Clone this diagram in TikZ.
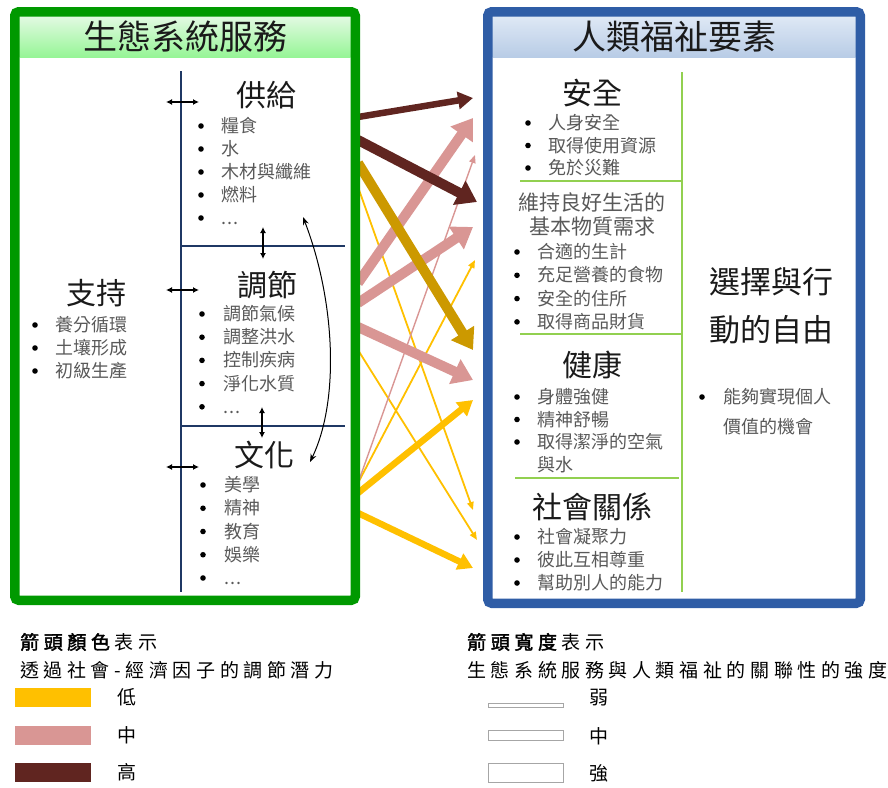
\documentclass[tikz,border=0pt]{standalone}
\usepackage{fontspec}
\newfontfamily\cjk{Noto Sans CJK TC}
\newfontfamily\cjkb[FakeBold=2]{Noto Sans CJK TC}
\usetikzlibrary{arrows.meta}
\definecolor{gbox}{HTML}{009900}
\definecolor{bbox}{HTML}{2F5DA6}
\definecolor{navy}{HTML}{1F3864}
\definecolor{lgreen}{HTML}{92D050}
\definecolor{brownc}{HTML}{602520}
\definecolor{pinkc}{HTML}{D99694}
\definecolor{goldc}{HTML}{CC9900}
\definecolor{yellowc}{HTML}{FFC000}
\definecolor{headc}{HTML}{1A1A1A}
\definecolor{itemc}{HTML}{595959}
\newcommand\tdots{.\kern1pt.\kern1pt.}
\makeatletter
\newcommand\spaced[1]{\@tfor\chr:=#1\do{\chr\kern4.6pt}}
\makeatother
\tikzset{
  ttl/.style={font=\cjk\fontsize{34}{40}\selectfont, text=headc, inner sep=0},
  hd/.style={font=\cjk\fontsize{30}{36}\selectfont, text=headc, inner sep=0},
  hdb/.style={font=\cjk\fontsize{31}{36}\selectfont, text=headc, inner sep=0},
  sub/.style={font=\cjk\fontsize{21}{25}\selectfont, text=itemc, inner sep=0},
  itm/.style={font=\cjk\fontsize{18}{22}\selectfont, text=itemc, inner sep=0, anchor=west, text height=15.5pt, text depth=2.5pt},
  legt/.style={font=\cjk\fontsize{19}{23}\selectfont, text=black, inner sep=0, anchor=west},
  legl/.style={font=\cjk\fontsize{19}{23}\selectfont, text=black, inner sep=0},
  arrS/.style={line width=10pt, -{Triangle[length=20pt,width=26pt]}},
  arrM/.style={line width=6.5pt, -{Triangle[length=15pt,width=17pt]}},
  arrW/.style={line width=1.8pt, -{Triangle[length=8pt,width=6.5pt]}},
  dbl/.style={black, line width=1.3pt, {Latex[length=6pt,width=6pt]}-{Latex[length=6pt,width=6pt]}},
  sepn/.style={navy, line width=2.6pt},
  sepg/.style={lgreen, line width=2.8pt},
}
\newcommand\blist[6]{%
  \foreach \itx [count=\i] in {#6} {%
    \fill[black] (#2,{#4+(\i-1)*#5}) circle[radius=2.8pt];
    \node[itm] (#1\i) at (#3,{#4+(\i-1)*#5}) {\itx};
  }}
\begin{document}
\begin{tikzpicture}[x=1pt,y=-1pt]
\useasboundingbox (0,0) rectangle (888,787);
% headers
\shade[top color={rgb,255:red,226;green,250;blue,226}, bottom color={rgb,255:red,150;green,245;blue,150}] (19.5,16.5) rectangle (350.5,57);
\shade[top color={rgb,255:red,222;green,232;blue,245}, bottom color={rgb,255:red,184;green,204;blue,230}] (492.5,16.5) rectangle (855.5,57);
% connector end points
\coordinate (s1) at (358,117); \coordinate (e1) at (473,98);
\coordinate (s2) at (358,140); \coordinate (e2) at (477,202);
\coordinate (s3) at (358,163); \coordinate (e3) at (473,350);
\coordinate (s4) at (358,187); \coordinate (e4) at (473,510);
\coordinate (s5) at (358,283); \coordinate (e5) at (473,118);
\coordinate (s6) at (358,303); \coordinate (e6) at (473,227);
\coordinate (s7) at (358,327); \coordinate (e7) at (473,380);
\coordinate (s8) at (358,350); \coordinate (e8) at (477,540);
\coordinate (s9) at (358,483); \coordinate (e9) at (475,155);
\coordinate (s10) at (358,483); \coordinate (e10) at (475,260);
\coordinate (s11) at (358,493); \coordinate (e11) at (473,400);
\coordinate (s12) at (358,513); \coordinate (e12) at (473,568);
% arrows
\draw[arrW, yellowc] (s4) -- (e4);
\draw[arrW, yellowc] (s8) -- (e8);
\draw[arrW, yellowc] (s10) -- (e10);
\draw[arrW, pinkc, line width=1.4pt] (s9) -- (e9);
\draw[arrM, yellowc] (s11) -- (e11);
\draw[arrM, yellowc] (s12) -- (e12);
\draw[arrS, pinkc] (s5) -- (e5);
\draw[arrS, pinkc] (s6) -- (e6);
\draw[arrS, goldc] (s3) -- (e3);
\draw[arrS, pinkc] (s7) -- (e7);
\draw[arrS, brownc] (s2) -- (e2);
\draw[arrM, brownc] (s1) -- (e1);
% boxes
\draw[gbox, line width=9.5pt, rounded corners=4pt] (14.75,11.75) rectangle (355.25,600.25);
\draw[bbox, line width=9.5pt, rounded corners=4pt] (487.75,11.75) rectangle (860.25,603.25);
% titles
\node[ttl] (t1) at (185,37) {生態系統服務};
\node[ttl] (t2) at (674,37) {人類福祉要素};
% left separators
\draw[sepn] (181,71) -- (181,592);
\draw[sepn] (181,246) -- (345,246);
\draw[sepn] (181,426) -- (345,426);
% left headings
\node[hd] (gong) at (266,95) {供給};
\node[hd] (tiao) at (267,285) {調節};
\node[hd] (wen) at (264,455) {文化};
\node[hd] (zhi) at (96,293) {支持};
\blist{gl}{201}{221}{126}{23}{糧食,水,木材與纖維,燃料,\tdots}
\blist{tl}{202}{223}{314}{23.2}{調節氣候,調整洪水,控制疾病,淨化水質,\tdots}
\blist{wl}{203}{224}{485}{23.25}{美學,精神,教育,娛樂,\tdots}
\blist{zl}{35}{55}{325}{23}{養分循環,土壤形成,初級生產}
% double arrows
\coordinate (h1a) at (166,102); \coordinate (h1b) at (199,102);
\coordinate (h2a) at (166,290); \coordinate (h2b) at (199,290);
\coordinate (h3a) at (166,467); \coordinate (h3b) at (199,467);
\coordinate (v1a) at (263,227); \coordinate (v1b) at (263,259);
\coordinate (v2a) at (262,407); \coordinate (v2b) at (262,438);
\draw[dbl] (h1a) -- (h1b);
\draw[dbl] (h2a) -- (h2b);
\draw[dbl] (h3a) -- (h3b);
\draw[dbl] (v1a) -- (v1b);
\draw[dbl] (v2a) -- (v2b);
\coordinate (ca) at (303,217); \coordinate (cb) at (310,462);
\draw[black, line width=1pt, {Stealth[length=8pt,width=6pt]}-{Stealth[length=8pt,width=6pt]}] (ca) .. controls (335,300) and (340,400) .. (cb);
% right separators
\draw[sepg] (682,72) -- (682,592);
\draw[sepg] (520,181) -- (682,181);
\draw[sepg] (520,334) -- (682,334);
\draw[sepg] (515,478) -- (679,478);
% right headings
\node[hd] (an) at (592,93) {安全};
\blist{al}{528}{548}{123}{22.5}{人身安全,取得使用資源,免於災難}
\node[sub] (bm1) at (592,202) {維持良好生活的};
\node[sub] (bm2) at (592,227) {基本物質需求};
\blist{bl}{517}{537}{252}{23.3}{合適的生計,充足營養的食物,安全的住所,取得商品財貨}
\node[hd] (jk) at (592,365) {健康};
\blist{jl}{517}{537}{397}{22.5}{身體強健,精神舒暢,取得潔淨的空氣}
\node[itm] (jl4) at (537,465) {與水};
\node[hd] (sh) at (592,507) {社會關係};
\blist{sl}{517}{537}{537}{23}{社會凝聚力,彼此互相尊重,幫助別人的能力}
\node[hdb] (xz1) at (771,282) {選擇與行};
\node[hdb] (xz2) at (771,330) {動的自由};
\fill[black] (702,397) circle[radius=2.8pt];
\node[itm] (nl1) at (723,397) {能夠實現個人};
\node[itm] (nl2) at (723,427) {價值的機會};
% legend left
\node[legt] (lg1) at (20,642) {{\cjkb\spaced{箭頭顏色}}\spaced{表示}};
\node[legt] (lg2) at (20,670) {\spaced{透過社會-經濟因子的調節潛力}};
\fill[yellowc] (15,688) rectangle (91,707);
\fill[pinkc] (15,726) rectangle (91,745);
\fill[brownc] (15,763) rectangle (91,782);
\node[legl] (ll1) at (127,697) {低};
\node[legl] (ll2) at (127,735) {中};
\node[legl] (ll3) at (127,772) {高};
% legend right
\node[legt] (lr1) at (467,642) {{\cjkb\spaced{箭頭寬度}}\spaced{表示}};
\node[legt] (lr2) at (467,670) {\spaced{生態系統服務與人類福祉的關聯性的強度}};
\draw[gray!70, fill=white, line width=0.8pt] (488,703.5) rectangle (563,707);
\draw[gray!70, fill=white, line width=0.8pt] (488,730) rectangle (563,740);
\draw[gray!70, fill=white, line width=0.8pt] (488,763) rectangle (563,782);
\node[legl] (lw1) at (599,698) {弱};
\node[legl] (lw2) at (599,736) {中};
\node[legl] (lw3) at (599,773) {強};
\end{tikzpicture}
\end{document}
